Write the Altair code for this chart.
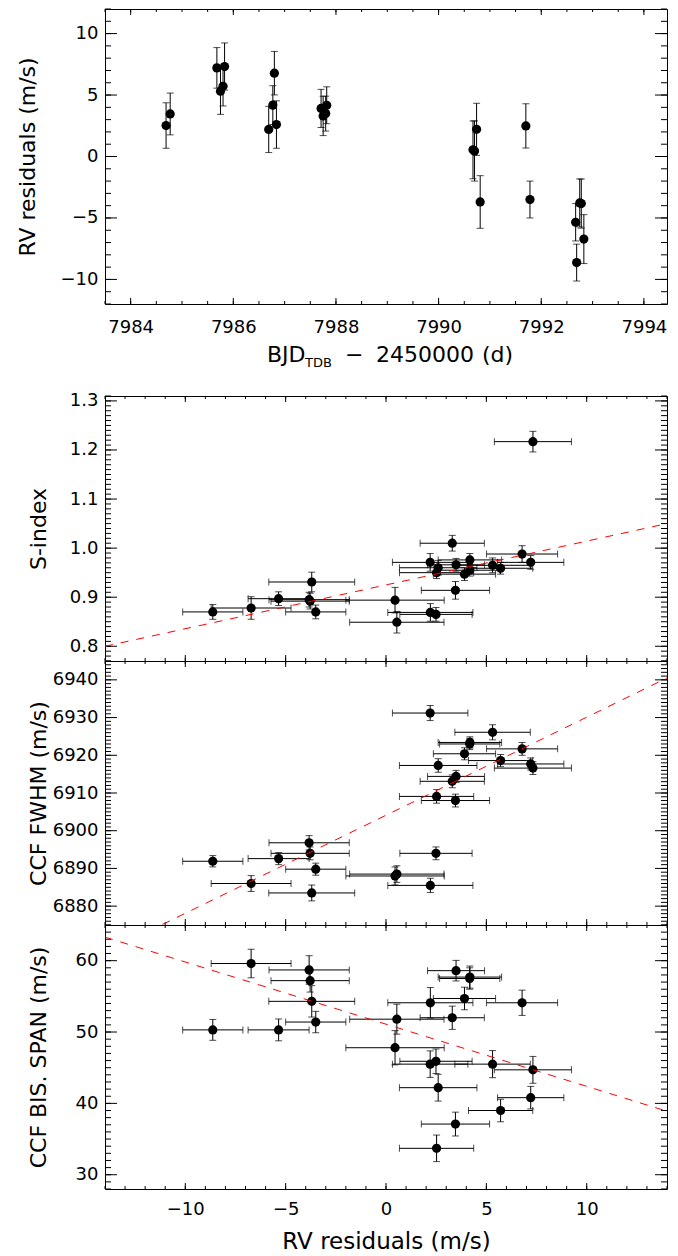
import altair as alt
import pandas as pd

FONT = "DejaVu Sans"
LAB = 18
TIT = 22
W = 562

# ---------------- data ----------------
t = [7984.69, 7984.77, 7985.68, 7985.75, 7985.80, 7985.83, 7986.69, 7986.77,
     7986.80, 7986.84, 7987.71, 7987.75, 7987.80, 7987.82, 7990.67, 7990.70,
     7990.74, 7990.81, 7991.70, 7991.78, 7992.67, 7992.69, 7992.75, 7992.78,
     7992.83]
rv = [2.52, 3.46, 7.21, 5.31, 5.71, 7.32, 2.20, 4.18, 6.78, 2.60, 3.91, 3.30,
      3.49, 4.17, 0.54, 0.45, 2.21, -3.70, 2.49, -3.50, -5.35, -8.63, -3.78,
      -3.83, -6.72]
rv_err = [1.85, 1.70, 1.65, 1.88, 1.60, 1.92, 1.88, 1.58, 1.77, 1.93, 1.55,
          1.60, 1.42, 1.50, 2.35, 2.45, 2.12, 2.14, 1.80, 1.50, 1.52, 1.50,
          1.95, 2.00, 1.99]
s_index = [0.950, 0.914, 0.971, 0.965, 0.959, 1.217, 0.971, 0.976, 0.988,
           0.960, 0.947, 1.010, 0.966, 0.955, 0.849, 0.894, 0.869, 0.931,
           0.865, 0.870, 0.897, 0.870, 0.892, 0.895, 0.878]
s_err = [0.012, 0.018, 0.014, 0.015, 0.012, 0.021, 0.018, 0.013, 0.017,
         0.015, 0.013, 0.016, 0.013, 0.012, 0.022, 0.026, 0.018, 0.020,
         0.014, 0.014, 0.014, 0.015, 0.016, 0.015, 0.023]
fwhm = [6909.1, 6908.0, 6917.7, 6926.1, 6918.6, 6916.6, 6931.2, 6923.4,
        6921.7, 6917.3, 6920.4, 6913.1, 6914.4, 6923.0, 6888.5, 6888.0,
        6885.5, 6883.5, 6894.0, 6889.8, 6892.6, 6891.9, 6894.0, 6896.8,
        6886.0]
fwhm_err = [1.8, 1.7, 1.6, 2.0, 1.6, 1.7, 2.0, 1.5, 1.7, 1.8, 1.6, 1.7, 1.6,
            1.5, 2.2, 2.4, 1.9, 2.1, 1.7, 1.6, 1.6, 1.5, 1.7, 1.9, 2.1]
bis = [33.7, 37.1, 40.8, 45.5, 39.0, 44.7, 45.5, 57.7, 54.1, 42.2, 54.7,
       52.0, 58.6, 57.5, 51.8, 47.8, 54.1, 54.3, 45.9, 51.4, 50.3, 50.3,
       57.2, 58.7, 59.6]
bis_err = [1.86, 1.67, 1.58, 1.90, 1.58, 1.88, 1.86, 1.55, 1.77, 1.88, 1.58,
           1.63, 1.44, 1.50, 2.10, 2.40, 2.14, 2.20, 1.72, 1.50, 1.53, 1.46,
           1.60, 2.00, 2.00]

# linear fits (end points of the red dashed lines)
fit_x = [-14.0, 14.0]
s_fit = [0.800, 1.050]
fwhm_fit = [6867.7, 6940.5]
bis_fit = [63.3, 38.9]

# axis ticks / labels
t_major = [7984, 7986, 7988, 7990, 7992, 7994]
t_minor = [7983.5 + 0.5 * i for i in range(22)]
top_y_major = [-10, -5, 0, 5, 10]
top_y_minor = list(range(-12, 13))
rv_major = [-10, -5, 0, 5, 10]
rv_minor = list(range(-14, 15))
s_major = [0.8, 0.9, 1.0, 1.1, 1.2, 1.3]
s_minor = [round(0.77 + 0.01 * i, 2) for i in range(55)]
fw_major = [6880, 6890, 6900, 6910, 6920, 6930, 6940]
fw_minor = list(range(6875, 6946))
bis_major = [30, 40, 50, 60]
bis_minor = list(range(28, 66))

df = pd.DataFrame(dict(t=t, rv=rv, rv_err=rv_err, s=s_index, s_err=s_err,
                       fw=fwhm, fw_err=fwhm_err, bis=bis, bis_err=bis_err))
df["rv_lo"] = df.rv - df.rv_err
df["rv_hi"] = df.rv + df.rv_err
for c in ["s", "fw", "bis"]:
    df[c + "_lo"] = df[c] - df[c + "_err"]
    df[c + "_hi"] = df[c] + df[c + "_err"]

fit_df = pd.DataFrame(dict(x=fit_x, s=s_fit, fw=fwhm_fit, bis=bis_fit))
one = pd.DataFrame({"k": [0]})


# ---------------- axis helpers ----------------
def lab_axis(orient, values=None, fmt=None, title=None, lp=7, tp=4, ext=None,
             tsize=TIT):
    kw = dict(orient=orient, ticks=False, domain=True, domainColor="black",
              domainWidth=1, grid=False, labelFlush=False, labelOverlap=False)
    if values is not None:
        kw.update(values=values, format=fmt, labels=True, labelFont=FONT,
                  labelFontSize=LAB, labelColor="black", labelPadding=lp)
    else:
        kw.update(labels=False)
    if title:
        kw.update(title=title, titleFont=FONT, titleFontSize=tsize,
                  titleFontWeight="normal", titleColor="black", titlePadding=tp)
    else:
        kw["title"] = None
    if ext is not None:
        kw.update(minExtent=ext, maxExtent=ext)
    return alt.Axis(**kw)


def frame_axis(orient):
    return alt.Axis(orient=orient, ticks=False, labels=False, domain=True,
                    domainColor="black", domainWidth=1, grid=False, title=None)


def tick_layers(xs, ys, xmaj, xmin, ymaj, ymin, H):
    """Inward-pointing ticks on all four sides, placed through the scales."""
    out = []
    for vals, ln in [(xmaj, 6), (xmin, 3)]:
        c = alt.Chart(pd.DataFrame({"v": vals})).mark_rule(color="black", strokeWidth=1)
        xe = alt.X("v:Q", scale=xs, axis=None)
        out.append(c.encode(x=xe, y=alt.value(0), y2=alt.value(ln)))
        out.append(c.encode(x=xe, y=alt.value(H), y2=alt.value(H - ln)))
    for vals, ln in [(ymaj, 12), (ymin, 6)]:
        c = alt.Chart(pd.DataFrame({"v": vals})).mark_rule(color="black", strokeWidth=1)
        ye = alt.Y("v:Q", scale=ys, axis=None)
        out.append(c.encode(y=ye, x=alt.value(0), x2=alt.value(ln)))
        out.append(c.encode(y=ye, x=alt.value(W), x2=alt.value(W - ln)))
    return out


def panel(xf, yf, xdom, ydom, xlab, ylab, xmaj, xmin, ymaj, ymin, height,
          mark_fn):
    xs = alt.Scale(domain=xdom, nice=False, zero=False)
    ys = alt.Scale(domain=ydom, nice=False, zero=False)
    base = alt.Chart(df)

    def inv(xa, ya):
        return base.mark_point(opacity=0, size=1).encode(
            x=alt.X(f"{xf}:Q", scale=xs, axis=xa),
            y=alt.Y(f"{yf}:Q", scale=ys, axis=ya))

    layers = (tick_layers(xs, ys, xmaj, xmin, ymaj, ymin, height)
              + mark_fn(xs, ys)
              + [inv(xlab, ylab), inv(frame_axis("top"), frame_axis("right"))])
    return alt.layer(*layers).resolve_axis(
        x="independent", y="independent").properties(width=W, height=height)


def X(f, s):
    return alt.X(f"{f}:Q", scale=s, axis=None)


def Y(f, s):
    return alt.Y(f"{f}:Q", scale=s, axis=None)


def scatter_marks(yf, fitcol):
    def fn(xs, ys):
        b = alt.Chart(df)
        return [
            b.mark_rule(color="black", strokeWidth=1).encode(
                x=X("rv_lo", xs), x2="rv_hi:Q", y=Y(yf, ys)),
            b.mark_rule(color="black", strokeWidth=1).encode(
                x=X("rv", xs), y=Y(yf + "_lo", ys), y2=f"{yf}_hi:Q"),
            b.mark_tick(orient="vertical", size=7, thickness=1, color="black").encode(
                x=X("rv_lo", xs), y=Y(yf, ys)),
            b.mark_tick(orient="vertical", size=7, thickness=1, color="black").encode(
                x=X("rv_hi", xs), y=Y(yf, ys)),
            b.mark_tick(orient="horizontal", size=7, thickness=1, color="black").encode(
                x=X("rv", xs), y=Y(yf + "_lo", ys)),
            b.mark_tick(orient="horizontal", size=7, thickness=1, color="black").encode(
                x=X("rv", xs), y=Y(yf + "_hi", ys)),
            b.mark_circle(size=85, color="black", opacity=1).encode(
                x=X("rv", xs), y=Y(yf, ys)),
            alt.Chart(fit_df).mark_line(color="#ff0000", strokeDash=[8, 8],
                                        strokeWidth=1, clip=True).encode(
                x=X("x", xs), y=Y(fitcol, ys)),
        ]
    return fn


def top_marks(xs, ys):
    b = alt.Chart(df)

    def txt(s, x, y, size):
        return alt.Chart(one).mark_text(text=s, align="left", baseline="alphabetic",
                                        font=FONT, fontSize=size, color="black").encode(
            x=alt.value(x), y=alt.value(y))

    return [
        b.mark_rule(color="black", strokeWidth=1).encode(
            x=X("t", xs), y=Y("rv_lo", ys), y2="rv_hi:Q"),
        b.mark_tick(orient="horizontal", size=7, thickness=1, color="black").encode(
            x=X("t", xs), y=Y("rv_lo", ys)),
        b.mark_tick(orient="horizontal", size=7, thickness=1, color="black").encode(
            x=X("t", xs), y=Y("rv_hi", ys)),
        b.mark_circle(size=85, color="black", opacity=1).encode(
            x=X("t", xs), y=Y("rv", ys)),
        txt("BJD", 162, 353, TIT),
        txt("TDB", 200, 358, 13),
        txt("\u2212", 240, 353, TIT),
        txt("2450000", 271, 353, TIT),
        txt("(d)", 377, 353, TIT),
    ]


top = panel("t", "rv", [7983.5, 7994.45], [-12, 12],
            lab_axis("bottom", t_major, "d", None, lp=14, ext=30),
            lab_axis("left", top_y_major, "d", "RV residuals (m/s)", lp=7, tp=21, ext=45),
            t_major, t_minor, top_y_major, top_y_minor, 295, top_marks)

spacer = alt.Chart(one).mark_point(opacity=0).encode(
    x=alt.X("k:Q", axis=None), y=alt.Y("k:Q", axis=None)).properties(width=W, height=92)

s_panel = panel("rv", "s", [-14, 14], [0.77, 1.31],
                lab_axis("bottom"),
                lab_axis("left", s_major, ".1f", "S-index", lp=7, tp=2, ext=53),
                rv_major, rv_minor, s_major, s_minor, 265, scatter_marks("s", "s"))

fw_panel = panel("rv", "fw", [-14, 14], [6875, 6945],
                 lab_axis("bottom"),
                 lab_axis("left", fw_major, "d", "CCF FWHM (m/s)", lp=7, tp=2, ext=53),
                 rv_major, rv_minor, fw_major, fw_minor, 264, scatter_marks("fw", "fw"))

bis_panel = panel("rv", "bis", [-14, 14], [28, 65],
                  lab_axis("bottom", rv_major, "d", "RV residuals (m/s)", lp=11, tp=11,
                           ext=30, tsize=23),
                  lab_axis("left", bis_major, "d", "CCF BIS. SPAN (m/s)", lp=7, tp=2, ext=53),
                  rv_major, rv_minor, bis_major, bis_minor, 264, scatter_marks("bis", "bis"))

chart = alt.vconcat(top, spacer, s_panel, fw_panel, bis_panel, spacing=0,
                    bounds="flush").properties(
    padding={"left": 8, "top": 0, "right": 0, "bottom": 0}
).configure_view(stroke=None).configure_axis(grid=False)

chart.save("out.html", embed_options={"renderer": "svg", "actions": False})
